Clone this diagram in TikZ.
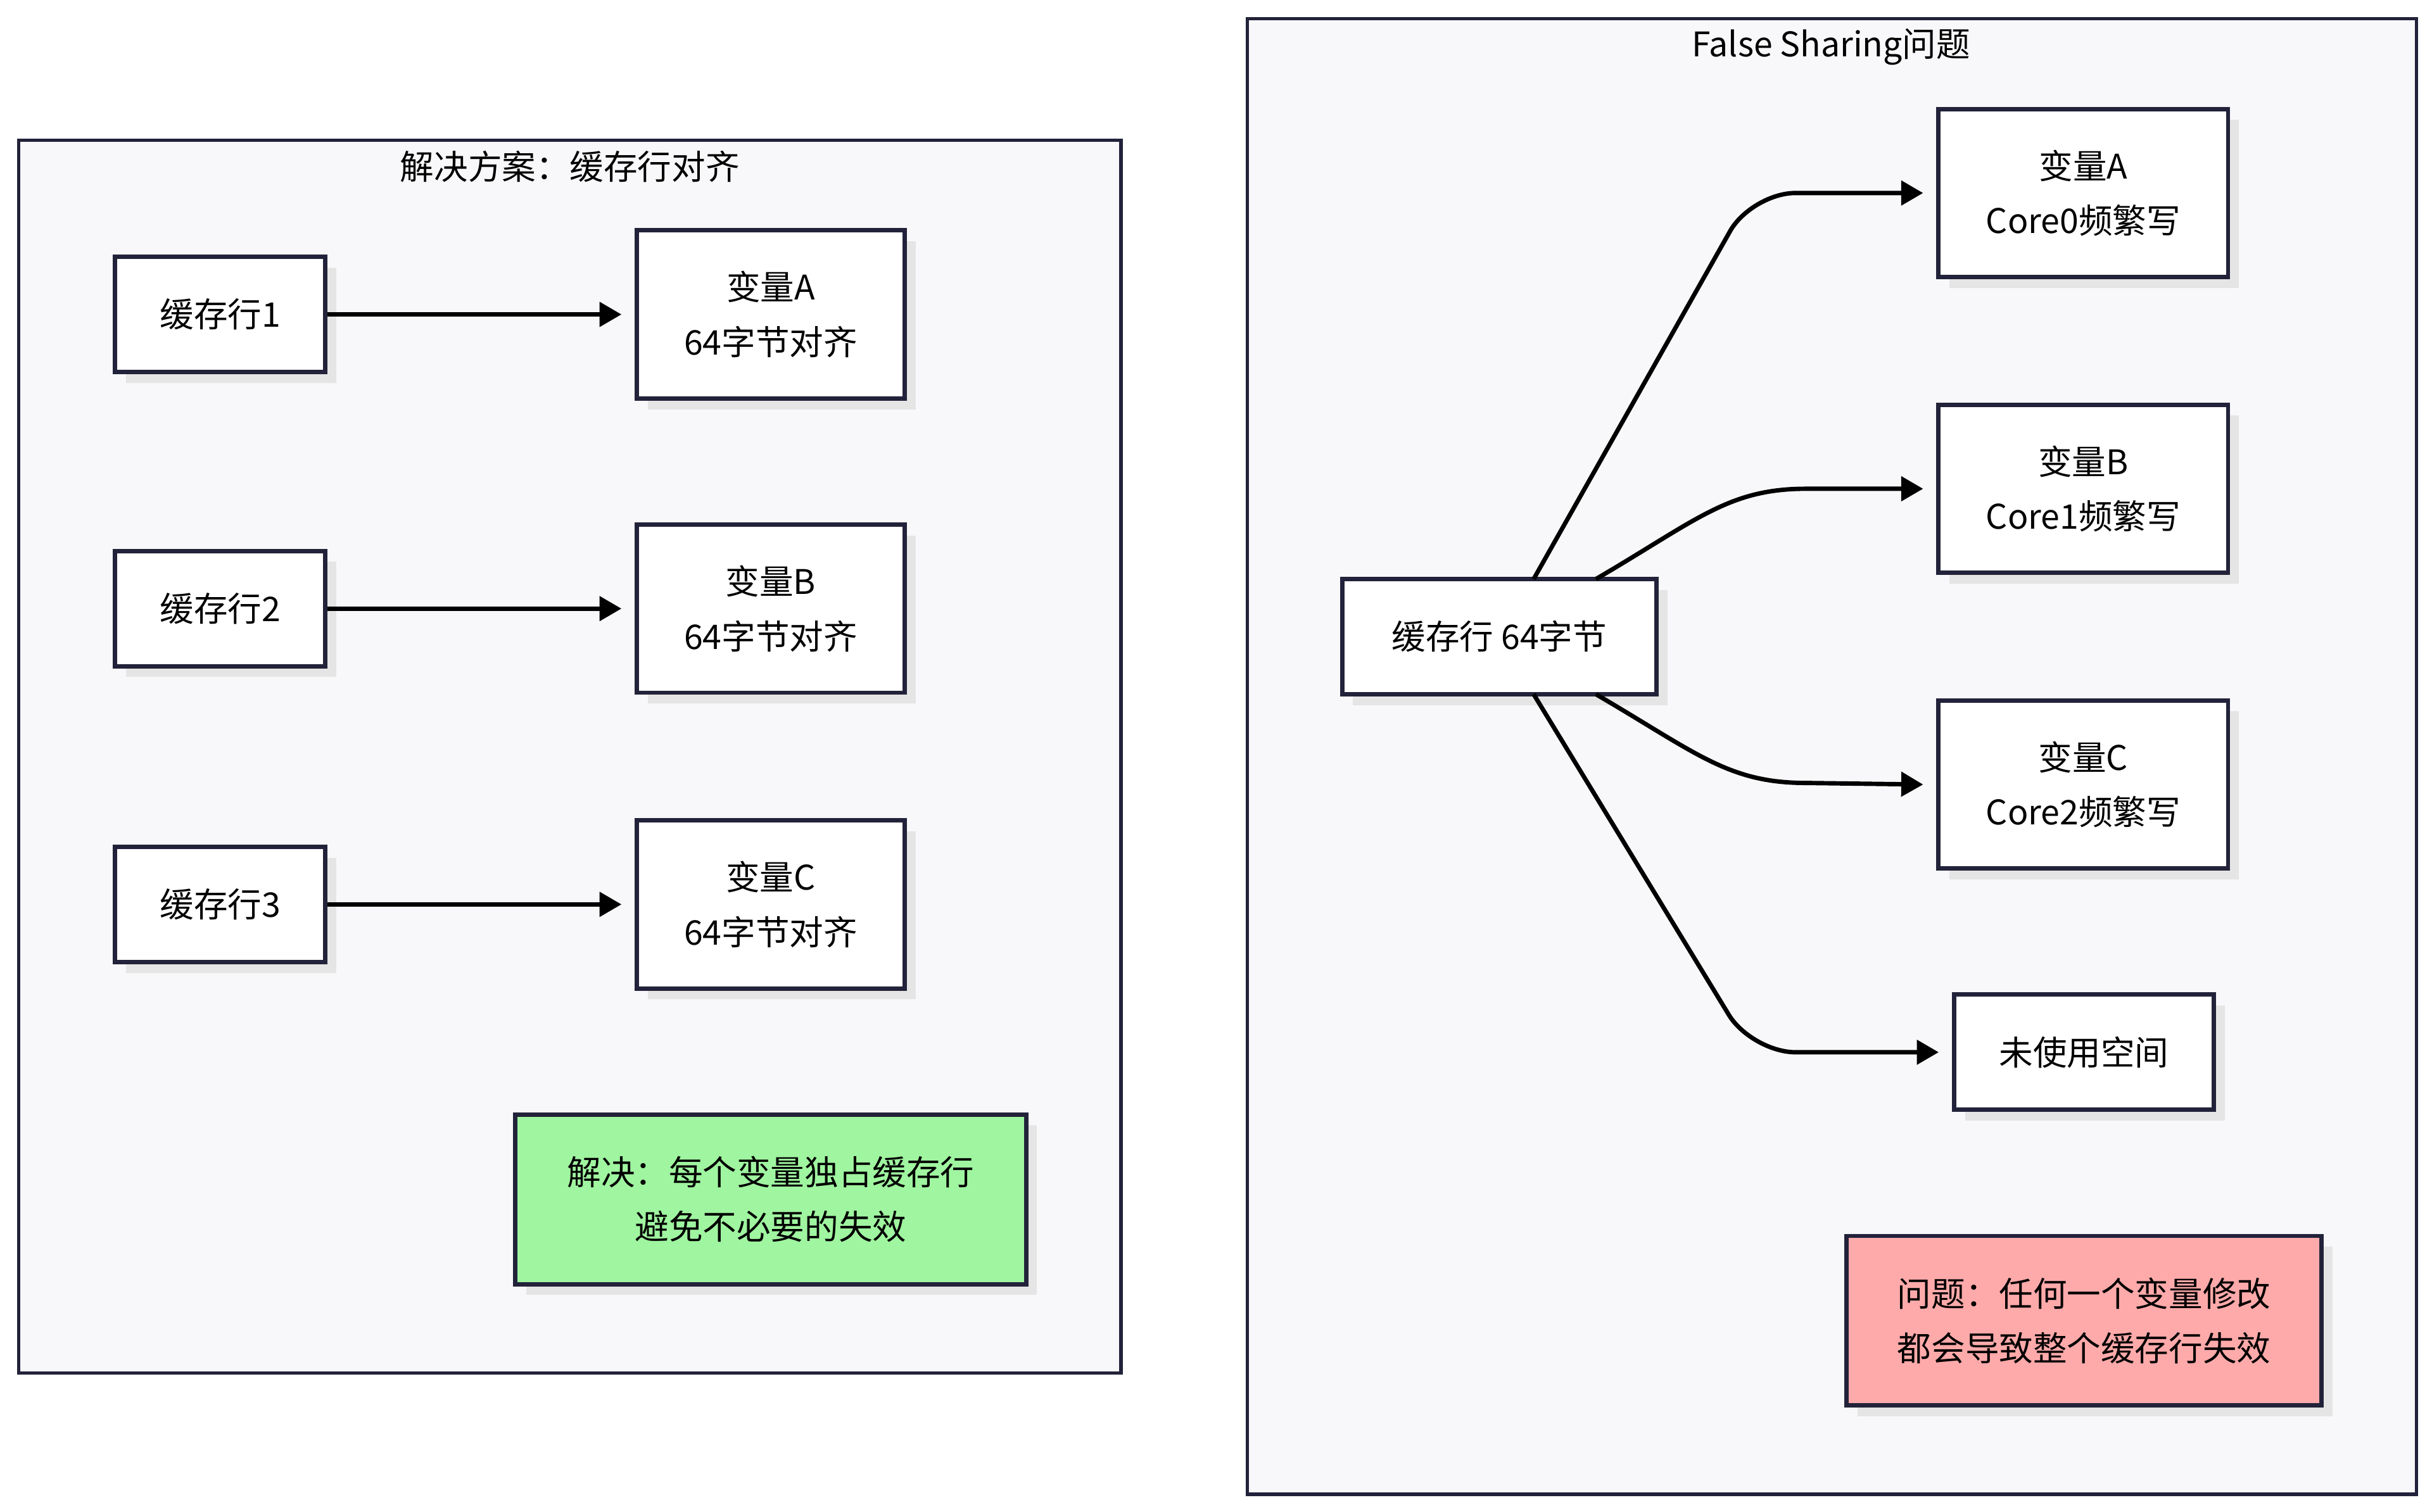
\documentclass[tikz,border=0pt]{standalone}
\usepackage{fontspec}
\setmainfont{Noto Sans CJK SC}
\usetikzlibrary{arrows.meta}
\definecolor{frameback}{HTML}{F8F8FA}
\definecolor{ink}{HTML}{22223A}
\definecolor{okgreen}{HTML}{A0F5A0}
\definecolor{badred}{HTML}{FFAAAA}
\tikzstyle{frame}=[draw=ink,line width=1.5pt,fill=frameback]
\tikzstyle{box}=[draw=ink,line width=2pt,fill=white,align=center,font=\fontsize{15.5}{25}\selectfont,inner sep=0pt]
\tikzstyle{arrow}=[line width=2pt,-{Triangle[length=10pt,width=11pt]},draw=black]

\begin{document}
\begin{tikzpicture}[x=0.025cm,y=-0.025cm]
    \useasboundingbox (0,0) rectangle (1562,971);
    % frames
    \draw[frame] (12,90) rectangle (720,882);
    \draw[frame] (801,12) rectangle (1552,960);
    \node[font=\fontsize{15.5}{20}\selectfont] (T-L) at (366,107) {解决方案：缓存行对齐};
    \node[font=\fontsize{15.5}{20}\selectfont] (T-R) at (1176,30) {False Sharing问题};

    % boxes with shadow
    \foreach \name/\xa/\ya/\xb/\yb/\fil/\txt in {
        L-1/74/165/209/239/white/缓存行1,
        L-2/74/354/209/428/white/缓存行2,
        L-3/74/544/209/618/white/缓存行3,
        V-1/409/148/581/256/white/{变量A\\64字节对齐},
        V-2/409/337/581/445/white/{变量B\\64字节对齐},
        V-3/409/527/581/635/white/{变量C\\64字节对齐},
        Fix/331/716/659/825/okgreen/{解决：每个变量独占缓存行\\避免不必要的失效},
        Src/862/372/1064/446/white/{缓存行 64字节},
        C-1/1245/70/1431/178/white/{变量A\\Core0频繁写},
        C-2/1245/260/1431/368/white/{变量B\\Core1频繁写},
        C-3/1245/450/1431/558/white/{变量C\\Core2频繁写},
        Free/1255/639/1422/713/white/未使用空间,
        Bug/1186/794/1491/903/badred/{问题：任何一个变量修改\\都会导致整个缓存行失效}}
    {
        \fill[black!10] (\xa+7,\ya+7) rectangle (\xb+7,\yb+7);
        \node[box,fill=\fil,minimum width=(\xb-\xa)*0.025cm,minimum height=(\yb-\ya)*0.025cm]
            (\name) at ({(\xa+\xb)/2},{(\ya+\yb)/2}) {\txt};
    }

    % left arrows
    \foreach \i in {1,2,3}
        \draw[arrow] (L-\i.east) -- ([xshift=-6pt]V-\i.west);

    % fan-out arrows
    \draw[arrow,rounded corners=20pt] (985,372) -- (1125,124) -- ([xshift=-6pt]C-1.west);
    \draw[arrow] (1025,372) .. controls (1090,334) and (1110,314) .. (1160,314) -- ([xshift=-6pt]C-2.west);
    \draw[arrow] (1025,446) .. controls (1090,484) and (1110,503) .. (1160,503) -- ([xshift=-6pt]C-3.west);
    \draw[arrow,rounded corners=20pt] (985,446) -- (1125,676) -- ([xshift=-6pt]Free.west);
\end{tikzpicture}
\end{document}
